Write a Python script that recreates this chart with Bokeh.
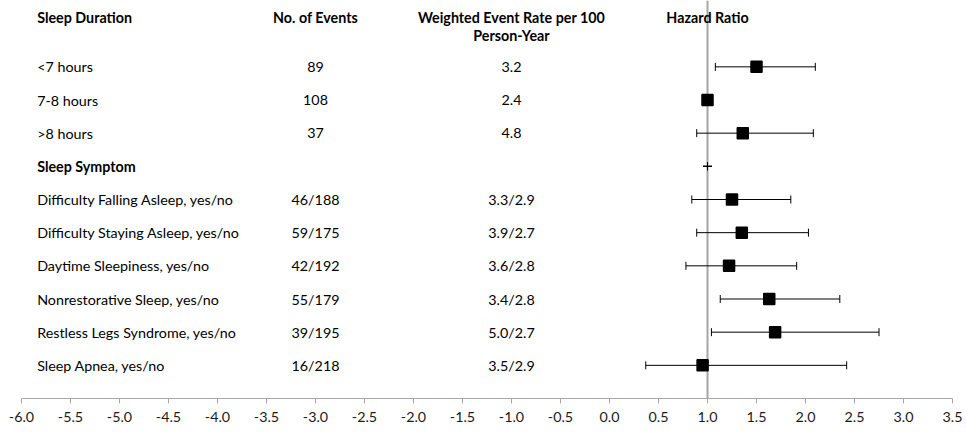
from bokeh.plotting import figure
from bokeh.models import ColumnDataSource, Span, Whisker, TeeHead, FixedTicker
from bokeh.core.properties import value
from bokeh.embed import file_html
from bokeh.resources import INLINE

# ---------------- data ----------------
row_pos = [10, 9, 8, 7, 6, 5, 4, 3, 2, 1]
labels = ["<7 hours", "7-8 hours", ">8 hours", "Sleep Symptom",
          "Difficulty Falling Asleep, yes/no", "Difficulty Staying Asleep, yes/no",
          "Daytime Sleepiness, yes/no", "Nonrestorative Sleep, yes/no",
          "Restless Legs Syndrome, yes/no", "Sleep Apnea, yes/no"]
label_bold = [False, False, False, True, False, False, False, False, False, False]
events = ["89", "108", "37", "", "46/188", "59/175", "42/192", "55/179", "39/195", "16/218"]
rates = ["3.2", "2.4", "4.8", "", "3.3/2.9", "3.9/2.7", "3.6/2.8", "3.4/2.8", "5.0/2.7", "3.5/2.9"]
hazard = [1.50, 1.00, 1.36, 1.00, 1.25, 1.35, 1.22, 1.63, 1.69, 0.95]
ci_low = [1.08, 1.00, 0.89, 1.00, 0.84, 0.89, 0.78, 1.13, 1.04, 0.37]
ci_high = [2.10, 1.00, 2.08, 1.00, 1.85, 2.03, 1.91, 2.35, 2.75, 2.42]
point_marker = ["square", "square", "square", "dash", "square", "square",
                "square", "square", "square", "square"]

header_texts = ["Sleep Duration", "No. of Events", "Weighted Event Rate per 100",
                "Person-Year", "Hazard Ratio"]
header_x = [-5.84, -3.0, -1.0, -1.0, 1.0]
header_y = [11.5, 11.5, 11.5, 10.93, 11.5]
header_align = ["left", "center", "center", "center", "center"]

label_col_x = -5.84
events_col_x = -3.0
rates_col_x = -1.0
reference_hr = 1.0

x_ticks = [-6.0, -5.5, -5.0, -4.5, -4.0, -3.5, -3.0, -2.5, -2.0, -1.5, -1.0,
           -0.5, 0.0, 0.5, 1.0, 1.5, 2.0, 2.5, 3.0, 3.5]
x_tick_labels = ["-6.0", "-5.5", "-5.0", "-4.5", "-4.0", "-3.5", "-3.0", "-2.5",
                 "-2.0", "-1.5", "-1.0", "-0.5", "0.0", "0.5", "1.0", "1.5",
                 "2.0", "2.5", "3.0", "3.5"]

FONT = "Lato"
FS = "14.3px"

# ---------------- figure ----------------
p = figure(width=966, height=433, x_range=(-6.0, 3.5), y_range=(0, 12),
           output_backend="svg", toolbar_location=None,
           min_border_left=21, min_border_right=14, min_border_top=0,
           min_border_bottom=35)
p.outline_line_color = None
p.xgrid.visible = False
p.ygrid.visible = False
p.yaxis.visible = False
p.background_fill_color = "white"
p.border_fill_color = "white"

xa = p.xaxis[0]
xa.ticker = FixedTicker(ticks=x_ticks)
xa.major_label_overrides = {t: l for t, l in zip(x_ticks, x_tick_labels)}
xa.axis_line_color = "#a6a6a6"
xa.major_tick_line_color = "#a6a6a6"
xa.major_tick_out = 5
xa.major_tick_in = 0
xa.minor_tick_line_color = None
xa.major_label_standoff = 8
xa.major_label_text_font = FONT
xa.major_label_text_font_size = FS
xa.major_label_text_color = "#1a1a1a"

# text columns
hdr = ColumnDataSource(dict(x=header_x, y=header_y, t=header_texts, a=header_align))
p.text(x="x", y="y", text="t", text_align="a", source=hdr, text_baseline="middle",
       text_font=value(FONT), text_font_size=FS, text_font_style="bold",
       text_color="black")

reg_src = ColumnDataSource(dict(
    y=[y for y, b in zip(row_pos, label_bold) if not b],
    t=[l for l, b in zip(labels, label_bold) if not b]))
bold_src = ColumnDataSource(dict(
    y=[y for y, b in zip(row_pos, label_bold) if b],
    t=[l for l, b in zip(labels, label_bold) if b]))
p.text(x=label_col_x, y="y", text="t", source=reg_src, text_align="left",
       text_baseline="middle", text_font=value(FONT), text_font_size=FS,
       text_color="black")
p.text(x=label_col_x, y="y", text="t", source=bold_src, text_align="left",
       text_baseline="middle", text_font=value(FONT), text_font_size=FS,
       text_font_style="bold", text_color="black")

col_src = ColumnDataSource(dict(y=row_pos, ev=events, rt=rates))
p.text(x=events_col_x, y="y", text="ev", source=col_src, text_align="center",
       text_baseline="middle", text_font=value(FONT), text_font_size=FS,
       text_color="black")
p.text(x=rates_col_x, y="y", text="rt", source=col_src, text_align="center",
       text_baseline="middle", text_font=value(FONT), text_font_size=FS,
       text_color="black")

# reference line
p.add_layout(Span(location=reference_hr, dimension="height", level="underlay",
                  line_color="#a6a6a6", line_width=2))

# confidence intervals
ci_src = ColumnDataSource(dict(y=row_pos, lo=ci_low, hi=ci_high, hr=hazard,
                               m=point_marker,
                               s=[11 if m == "square" else 9 for m in point_marker]))
p.add_layout(Whisker(source=ci_src, base="y", lower="lo", upper="hi",
                     dimension="width", line_color="black", line_width=1,
                     level="underlay",
                     lower_head=TeeHead(size=8, line_color="black", line_width=1),
                     upper_head=TeeHead(size=8, line_color="black", line_width=1)))

p.scatter(x="hr", y="y", marker="m", size="s", source=ci_src,
          fill_color="black", line_color="black", line_width=1.5)

open("out.html", "w").write(file_html(p, INLINE))
